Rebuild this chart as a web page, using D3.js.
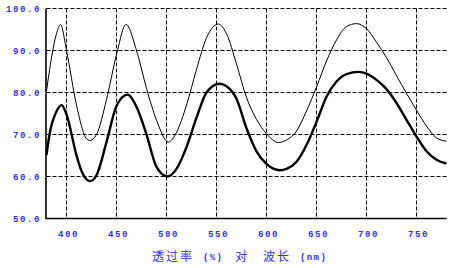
<!DOCTYPE html>
<html>
<head>
<meta charset="utf-8">
<script src="https://cdn.jsdelivr.net/npm/d3@7"></script>
<style>
  body { margin: 0; background: #fff; }
  svg { display: block; }
  .tick-label { font-family: "Liberation Mono", "DejaVu Sans Mono", monospace; font-size: 9px; letter-spacing: 1.6px; fill: #3030ff; font-weight: bold; }
  .title { font-family: "Noto Sans CJK SC", sans-serif; font-size: 12px; fill: #3030ff; }
  .title-small { font-family: "Liberation Mono", monospace; font-size: 9px; letter-spacing: 1.4px; fill: #3030ff; font-weight: bold; }
</style>
</head>
<body>
<svg width="462" height="268"></svg>
<script>
// wavelength ticks and transmittance ticks
var xTicks = [400, 450, 500, 550, 600, 650, 700, 750];
var yTicks = [50, 60, 70, 80, 90, 100];

// thin curve
var thinWl = [380, 390, 394, 400, 410, 420, 423.5, 430, 440, 450, 459.5, 470, 480, 490, 502, 510, 520, 530, 540, 552, 560, 570, 580, 590, 600, 612, 620, 630, 640, 650, 660, 670, 680, 690, 700, 710, 720, 730, 740, 750, 760, 770, 780];
var thinT  = [80.4, 94.0, 96.2, 90, 77, 69.0, 68.6, 70, 78.3, 89, 96.2, 90, 81, 73.4, 68.2, 70.5, 77, 85.5, 93, 96.3, 94.0, 86.8, 78.8, 73.6, 70.2, 68.1, 68.7, 70.8, 75.6, 81.3, 87.5, 92.5, 95.7, 96.4, 95.2, 92, 88.3, 84, 79.8, 75.8, 72, 69.2, 68.4];

// thick curve
var thickWl = [380, 383, 390, 395, 400, 410, 415, 420, 423.5, 430, 440, 450, 461, 470, 480, 490, 501, 510, 520, 530, 540, 553, 560, 570, 580, 590, 600, 613.5, 620, 630, 640, 650, 660, 670, 680, 692, 700, 710, 720, 730, 740, 750, 760, 770, 780];
var thickT  = [65.1, 70, 75.5, 77.0, 74.8, 65.0, 61.3, 59.3, 58.9, 60.3, 68.2, 76.8, 79.5, 76.6, 70, 62.3, 60.0, 61.8, 67, 74, 80, 82.1, 81.5, 78.5, 71.5, 66, 63, 61.5, 61.8, 63.5, 67.5, 73, 79, 82.6, 84.4, 84.9, 84.5, 83, 80.8, 77.5, 73.5, 69.5, 66, 64, 63.1];

var svg = d3.select('svg');

var x = d3.scaleLinear().domain([380, 780]).range([46.5, 446.5]);
var y = d3.scaleLinear().domain([50, 100]).range([218.5, 8.5]);

// grid
var grid = svg.append('g')
  .attr('stroke', '#000')
  .attr('stroke-width', 1)
  .attr('stroke-dasharray', '4,2');

grid.selectAll('line.h')
  .data(yTicks.filter(function(d) { return d > 50; }))
  .enter().append('line')
  .attr('class', 'h')
  .attr('x1', x(380)).attr('x2', x(780))
  .attr('y1', function(d) { return y(d); })
  .attr('y2', function(d) { return y(d); });

grid.selectAll('line.v')
  .data(xTicks)
  .enter().append('line')
  .attr('class', 'v')
  .attr('y1', y(100)).attr('y2', y(50))
  .attr('x1', function(d) { return x(d); })
  .attr('x2', function(d) { return x(d); });

// axes lines
svg.append('line')
  .attr('x1', x(380) - 0.5).attr('x2', x(380) - 0.5)
  .attr('y1', y(100)).attr('y2', y(50) + 0.5)
  .attr('stroke', '#000').attr('stroke-width', 1.6);
svg.append('line')
  .attr('x1', x(380) - 1).attr('x2', x(780))
  .attr('y1', y(50)).attr('y2', y(50))
  .attr('stroke', '#000').attr('stroke-width', 1.6);

// tick labels
svg.selectAll('text.ylab')
  .data(yTicks)
  .enter().append('text')
  .attr('class', 'tick-label')
  .attr('x', 41)
  .attr('y', function(d) { return y(d); })
  .attr('dy', '0.35em')
  .attr('text-anchor', 'end')
  .text(function(d) { return d.toFixed(1); });

svg.selectAll('text.xlab')
  .data(xTicks)
  .enter().append('text')
  .attr('class', 'tick-label')
  .attr('x', function(d) { return x(d) + 2; })
  .attr('y', 236.5)
  .attr('text-anchor', 'middle')
  .text(function(d) { return d; });

// curves
var line = d3.line()
  .x(function(d) { return x(d[0]); })
  .y(function(d) { return y(d[1]); })
  .curve(d3.curveMonotoneX);

svg.append('path')
  .datum(d3.zip(thinWl, thinT))
  .attr('d', line)
  .attr('fill', 'none')
  .attr('stroke', '#000')
  .attr('stroke-width', 1);

svg.append('path')
  .datum(d3.zip(thickWl, thickT))
  .attr('d', line)
  .attr('fill', 'none')
  .attr('stroke', '#000')
  .attr('stroke-width', 2.4);

// axis title
var title = svg.append('g');
title.append('text').attr('class', 'title').attr('x', 152).attr('y', 261).attr('letter-spacing', '2px').text('透过率');
title.append('text').attr('class', 'title-small').attr('x', 203).attr('y', 260).text('(%)');
title.append('text').attr('class', 'title').attr('x', 235).attr('y', 261).text('对');
title.append('text').attr('class', 'title').attr('x', 263).attr('y', 261).attr('letter-spacing', '2px').text('波长');
title.append('text').attr('class', 'title-small').attr('x', 300).attr('y', 260).text('(nm)');
</script>
</body>
</html>
